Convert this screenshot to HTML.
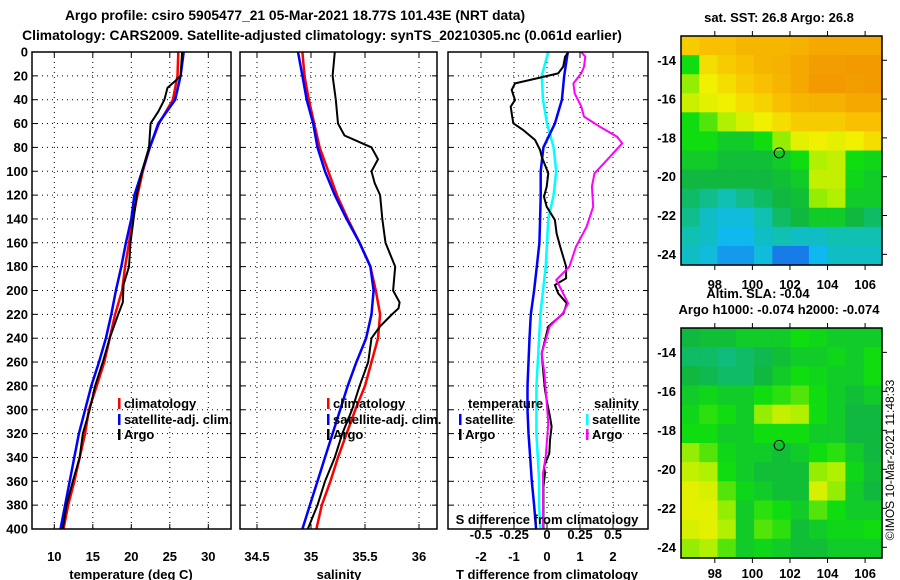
<!DOCTYPE html>
<html><head><meta charset="utf-8"><style>
html,body{margin:0;padding:0;background:#fff;}
svg{display:block;font-family:"Liberation Sans",sans-serif;font-weight:bold;}
</style></head><body>
<svg id="chart" width="900" height="580" xmlns="http://www.w3.org/2000/svg"></svg>
<script>
// ---------- data ----------
const depthTicks=[0,20,40,60,80,100,120,140,160,180,200,220,240,260,280,300,320,340,360,380,400];
const tempTicks=[10,15,20,25,30];
const salTicks=[34.5,35,35.5,36];
const tdiffTicks=[-2,-1,0,1,2];
const sdiffTicks=[-0.5,-0.25,0,0.25,0.5];
const lonTicks=[98,100,102,104,106];
const latTicks=[-14,-16,-18,-20,-22,-24];

const stdDepth=[0,20,40,60,80,100,120,140,160,180,200,220,240,260,280,300,320,340,360,380,400];
const tempClim=[26.1,26.0,25.4,23.6,22.4,21.5,20.8,20.2,19.7,19.2,18.8,17.9,17.2,16.5,15.5,14.5,14.0,13.3,12.6,11.8,11.2];
const tempSat=[26.8,26.4,25.7,23.5,22.4,21.4,20.4,20.0,19.3,18.7,18.0,17.4,16.7,15.8,14.8,14.0,13.2,12.6,12.0,11.4,10.8];
const argoTDepth=[0,20,25,30,40,50,60,80,100,120,140,160,180,195,210,220,240,260,280,300,320,340,360,380,400];
const tempArgo=[26.6,26.4,25.6,24.7,24.3,23.5,22.5,22.3,21.4,20.7,20.3,19.9,19.7,19.0,18.9,18.3,17.2,16.3,15.3,14.6,13.7,13.3,12.4,11.6,11.1];

const salClim=[34.92,34.94,34.98,35.03,35.08,35.16,35.24,35.34,35.45,35.55,35.60,35.64,35.62,35.56,35.50,35.41,35.33,35.25,35.18,35.10,35.05];
const salSat=[34.88,34.92,34.96,35.02,35.06,35.13,35.22,35.33,35.45,35.55,35.58,35.56,35.51,35.42,35.34,35.27,35.20,35.13,35.06,34.99,34.92];
const argoSDepth=[0,20,40,60,70,80,90,100,110,120,140,160,180,200,210,215,220,230,240,260,280,300,320,340,360,380,400];
const salArgo=[35.22,35.20,35.23,35.25,35.31,35.56,35.62,35.56,35.59,35.64,35.66,35.69,35.78,35.76,35.82,35.81,35.75,35.64,35.56,35.53,35.45,35.38,35.29,35.22,35.13,35.06,34.97];

const tdiffSat=[0.63,0.52,0.45,0.24,-0.11,-0.19,-0.19,-0.21,-0.23,-0.31,-0.39,-0.49,-0.53,-0.56,-0.59,-0.59,-0.56,-0.51,-0.46,-0.39,-0.33];
const sdiffSat=[0.01,-0.04,-0.03,0.00,0.05,0.07,0.05,0.01,0.00,-0.01,-0.03,-0.05,-0.06,-0.07,-0.08,-0.08,-0.08,-0.07,-0.06,-0.06,-0.05];
const tdiffArgoDepth=[0,3.9,12.3,17.9,22.1,26.3,31.9,40.3,45.8,51.4,59.8,65.4,73.8,82.2,87.8,101.7,112.9,121.3,129.7,140.9,152.1,163.2,180,189.8,195.4,202.4,210.8,219.1,230.3,241.5,252.7,269.5,283.4,294.6,305.8,314.2,325.4,336.6,347.7,353.3,364.5,400];
const tdiffArgo=[0.65,0.55,0.49,0.34,-0.31,-0.97,-1.07,-0.97,-1.10,-1.07,-1.02,-0.72,-0.36,-0.21,-0.16,0.04,-0.01,-0.09,-0.01,0.24,0.29,0.40,0.58,0.58,0.24,0.34,0.60,0.50,0.04,-0.06,-0.16,-0.11,-0.06,0.01,0.09,0.14,0.09,0.07,-0.09,-0.06,-0.11,-0.11];
const sdiffArgoDepth=[0,3.9,12.3,17.9,26.3,34.7,45.8,54.2,62.6,71.0,76.6,85.0,93.4,101.7,112.9,129.7,146.5,163.2,180,191.2,199.6,210.8,219.1,230.3,241.5,252.7,269.5,297.4,311.4,339.3,353.3,400];
const sdiffArgo=[0.26,0.29,0.28,0.26,0.20,0.21,0.26,0.28,0.40,0.53,0.57,0.50,0.43,0.36,0.34,0.35,0.30,0.22,0.17,0.07,0.11,0.16,0.12,0.02,-0.01,-0.04,-0.02,0.00,0.01,-0.01,-0.03,-0.03];

const sstGrid=[
[0.88,0.9,0.9,0.92,0.92,0.92,0.93,0.95,0.95,0.95,0.95],
[0.6,0.85,0.88,0.9,0.92,0.93,0.95,0.97,0.97,0.98,0.98],
[0.7,0.82,0.85,0.88,0.9,0.92,0.95,0.98,0.98,0.97,0.98],
[0.76,0.8,0.82,0.85,0.87,0.9,0.92,0.93,0.93,0.95,0.95],
[0.6,0.65,0.72,0.78,0.82,0.85,0.88,0.88,0.88,0.9,0.9],
[0.6,0.6,0.55,0.55,0.6,0.7,0.8,0.82,0.8,0.82,0.85],
[0.55,0.55,0.52,0.52,0.52,0.55,0.6,0.72,0.75,0.6,0.58],
[0.5,0.5,0.5,0.5,0.5,0.52,0.55,0.75,0.75,0.58,0.55],
[0.45,0.4,0.35,0.4,0.45,0.5,0.52,0.7,0.72,0.55,0.55],
[0.4,0.3,0.25,0.25,0.35,0.45,0.5,0.55,0.55,0.5,0.45],
[0.35,0.3,0.2,0.2,0.3,0.35,0.3,0.3,0.35,0.35,0.35],
[0.3,0.25,0.15,0.15,0.25,0.1,0.1,0.2,0.3,0.3,0.3]];
const slaGrid=[
[0.5,0.52,0.52,0.55,0.55,0.55,0.6,0.58,0.55,0.55,0.55],
[0.45,0.45,0.42,0.45,0.48,0.52,0.55,0.55,0.58,0.55,0.6],
[0.5,0.48,0.45,0.45,0.5,0.55,0.6,0.58,0.55,0.55,0.6],
[0.55,0.58,0.55,0.55,0.6,0.62,0.65,0.6,0.55,0.52,0.55],
[0.58,0.62,0.6,0.55,0.7,0.75,0.72,0.6,0.55,0.5,0.5],
[0.6,0.6,0.55,0.55,0.6,0.6,0.6,0.55,0.55,0.5,0.5],
[0.7,0.65,0.58,0.55,0.55,0.52,0.55,0.6,0.62,0.55,0.5],
[0.75,0.72,0.6,0.55,0.52,0.52,0.52,0.7,0.72,0.58,0.52],
[0.8,0.78,0.65,0.58,0.55,0.52,0.52,0.78,0.7,0.55,0.5],
[0.8,0.8,0.7,0.55,0.62,0.6,0.55,0.65,0.6,0.55,0.55],
[0.78,0.8,0.72,0.55,0.65,0.62,0.52,0.55,0.58,0.58,0.6],
[0.7,0.72,0.65,0.55,0.58,0.55,0.52,0.52,0.55,0.55,0.55]];
const argoLon=101.43, argoLat=-18.77;

// ---------- helpers ----------
const svg=document.getElementById('chart');
const NS='http://www.w3.org/2000/svg';
function mk(tag,attrs,parent){const e=document.createElementNS(NS,tag);for(const k in attrs)e.setAttribute(k,attrs[k]);(parent||svg).appendChild(e);return e;}
function txt(x,y,s,size,anchor,parent){const t=mk('text',{x:x,y:y,'font-size':size,'text-anchor':anchor||'middle',fill:'#000'},parent);t.textContent=s;return t;}
function lin(d0,d1,r0,r1){return v=>r0+(v-d0)*(r1-r0)/(d1-d0);}

const TOP=52,BOT=529;
const FS=13;
const yD=lin(0,400,TOP,BOT);
const panels=[{l:32,r:231},{l:240,r:437},{l:448,r:648}];
const xT=lin(10,30,54.3,208.3);
const xS=lin(35,36,311,419);
const xTd=lin(0,1,547,580);
const xSd=lin(0,0.25,547,580);

function frame(p,name,showLabels){
  const g=mk('g',{});
  
  
  depthTicks.forEach(d=>{
    const y=yD(d);
    if(d>0&&d<400){mk('line',{x1:p.l,x2:p.r,y1:y,y2:y,stroke:'#000','stroke-width':1,'stroke-dasharray':'1,4'},g);}
    mk('line',{x1:p.l,x2:p.l+5,y1:y,y2:y,stroke:'#000'},g);
    mk('line',{x1:p.r-5,x2:p.r,y1:y,y2:y,stroke:'#000'},g);
    if(showLabels){const t=txt(28,y+4.5,String(d),FS,'end',g);}
  });
  return g;
}
function xgrid(g,p,ticks,fx,labelY){
  ticks.forEach(v=>{const x=fx(v);
    mk('line',{x1:x,x2:x,y1:TOP,y2:BOT,stroke:'#000','stroke-dasharray':'1,4'},g);
    mk('line',{x1:x,x2:x,y1:BOT-5,y2:BOT,stroke:'#000'},g);
    mk('line',{x1:x,x2:x,y1:TOP,y2:TOP+5,stroke:'#000'},g);
    if(labelY){const t=txt(x,labelY,String(v),FS,'middle',g);}
  });
}
function line(g,xs,ds,fx,color,w,name){
  const pts=xs.map((v,i)=>fx(v).toFixed(1)+','+yD(ds[i]).toFixed(1)).join(' ');
  const pl=mk('polyline',{points:pts,fill:'none',stroke:color,'stroke-width':w},g);
  
  
}
function border(g,p){mk('rect',{x:p.l,y:TOP,width:p.r-p.l,height:BOT-TOP,fill:'none',stroke:'#000','stroke-width':1.5},g);}
function legendEntry(g,x,y,color,label){
  if(color){const b=mk('rect',{x:x,y:y-10,width:2.5,height:11,fill:color},g);}
  const t=txt(x+6,y,label,FS,'start',g);
  
  
}

// titles
let t1=txt(295,20,'Argo profile: csiro 5905477_21 05-Mar-2021 18.77S 101.43E (NRT data)',13.8);

let t2=txt(322,40,'Climatology: CARS2009. Satellite-adjusted climatology: synTS_20210305.nc (0.061d earlier)',13.8);


// panel 1: temperature
let g1=frame(panels[0],'temperature-panel',true);
xgrid(g1,panels[0],tempTicks,xT,561);
line(g1,tempClim,stdDepth,xT,'#ff0000',2.5,'temperature-climatology-line');
line(g1,tempSat,stdDepth,xT,'#0000ff',2.5,'temperature-satellite-line');
line(g1,tempArgo,argoTDepth,xT,'#000000',2,'temperature-argo-line');
border(g1,panels[0]);
legendEntry(g1,118,408,'#ff0000','climatology');
legendEntry(g1,118,424,'#0000ff','satellite-adj. clim.');
legendEntry(g1,118,439,'#000','Argo');
let xl1=txt(131,579,'temperature (deg C)',FS);

// panel 2: salinity
let g2=frame(panels[1],'salinity-panel',false);
xgrid(g2,panels[1],salTicks,xS,561);
line(g2,salClim,stdDepth,xS,'#ff0000',2.5,'salinity-climatology-line');
line(g2,salSat,stdDepth,xS,'#0000ff',2.5,'salinity-satellite-line');
line(g2,salArgo,argoSDepth,xS,'#000000',2,'salinity-argo-line');
border(g2,panels[1]);
legendEntry(g2,327,408,'#ff0000','climatology');
legendEntry(g2,327,424,'#0000ff','satellite-adj. clim.');
legendEntry(g2,327,439,'#000','Argo');
let xl2=txt(339,579,'salinity',FS);

// panel 3: differences
let g3=frame(panels[2],'difference-panel',false);
xgrid(g3,panels[2],tdiffTicks,xTd,561);
line(g3,sdiffSat,stdDepth,xSd,'#00ffff',2.5,'salinity-diff-satellite-line');
line(g3,tdiffSat,stdDepth,xTd,'#0000ff',2.5,'temperature-diff-satellite-line');
line(g3,tdiffArgo,tdiffArgoDepth,xTd,'#000000',2,'temperature-diff-argo-line');
line(g3,sdiffArgo,sdiffArgoDepth,xSd,'#ff00ff',2,'salinity-diff-argo-line');
border(g3,panels[2]);
legendEntry(g3,462,408,null,'temperature');
legendEntry(g3,459,424,'#0000ff','satellite');
legendEntry(g3,459,439,'#000','Argo');
legendEntry(g3,588,408,null,'salinity');
legendEntry(g3,586,424,'#00ffff','satellite');
legendEntry(g3,586,439,'#ff00ff','Argo');
let sl=txt(547,524,'S difference from climatology',FS);
sdiffTicks.forEach(v=>{const t=txt(xSd(v),539,String(v),FS);});
let xl3=txt(547,579,'T difference from climatology',FS);

// ---------- maps ----------
const cstops=[[0,[32,64,224]],[0.2,[16,184,240]],[0.35,[16,192,176]],[0.5,[16,184,64]],[0.6,[16,221,16]],[0.72,[176,240,0]],[0.82,[240,240,0]],[0.9,[248,192,0]],[1,[240,144,0]]];
function cmap(v){for(let i=1;i<cstops.length;i++){if(v<=cstops[i][0]){const a=cstops[i-1],b=cstops[i],f=(v-a[0])/(b[0]-a[0]);const c=a[1].map((q,k)=>Math.round(q+(b[1][k]-q)*f));return 'rgb('+c.join(',')+')';}}return 'rgb(240,144,0)';}
const LON0=96.2,LON1=106.9,LAT0=-12.75,LAT1=-24.55;
function drawMap(top,bot,grid,name,labelY){
  const L=681,R=882;
  const xL=lin(LON0,LON1,L,R), yL=lin(LAT0,LAT1,top,bot);
  const g=mk('g',{});
  
  
  const rows=grid.length, cols=grid[0].length;
  const cw=(R-L)/cols, ch=(bot-top)/rows;
  grid.forEach((row,i)=>row.forEach((v,j)=>{
    const c=mk('rect',{x:(L+j*cw).toFixed(2),y:(top+i*ch).toFixed(2),width:(cw+0.6).toFixed(2),height:(ch+0.6).toFixed(2),fill:cmap(v)},g);
    
    
  }));
  mk('rect',{x:L,y:top,width:R-L,height:bot-top,fill:'none',stroke:'#000','stroke-width':1.5},g);
  lonTicks.forEach(v=>{const x=xL(v);mk('line',{x1:x,x2:x,y1:top-5,y2:top,stroke:'#000'},g);mk('line',{x1:x,x2:x,y1:bot,y2:bot+5,stroke:'#000'},g);
    const t=txt(x,labelY,String(v),FS,'middle',g);});
  latTicks.forEach(v=>{const y=yL(v);mk('line',{x1:R,x2:R+5,y1:y,y2:y,stroke:'#000'},g);
    const t=txt(676,y+4.5,String(v),FS,'end',g);});
  const m=mk('circle',{cx:xL(argoLon),cy:yL(argoLat),r:5,fill:'none',stroke:'#000','stroke-width':1},g);
  
  
}
let mt=txt(779,22,'sat. SST: 26.8 Argo: 26.8',FS);
drawMap(36,265,sstGrid,'sst-map',289);
let a1=txt(758,298,'Altim. SLA: -0.04',FS);
let a2=txt(779,314,'Argo h1000: -0.074 h2000: -0.074',FS);
drawMap(328,558,slaGrid,'sla-map',578);
let cp=txt(0,0,'©IMOS 10-Mar-2021 11:48:33',12,'middle');
cp.setAttribute('font-weight','normal');
cp.setAttribute('transform','translate(894,460) rotate(-90)');


</script>
</body></html>
